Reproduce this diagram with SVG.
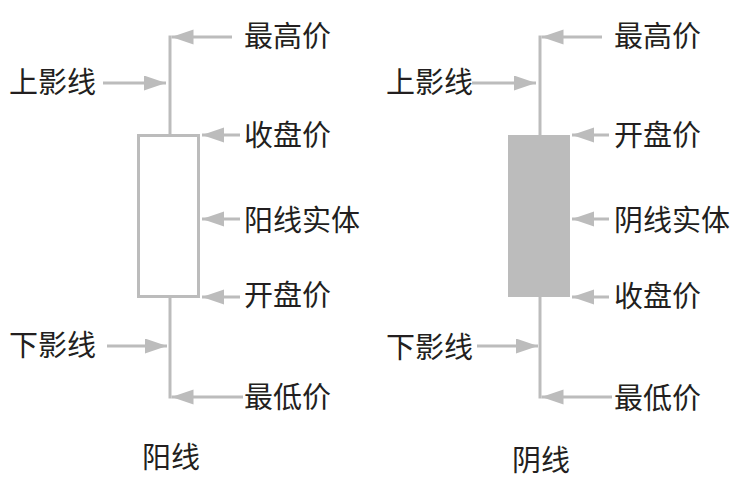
<svg xmlns="http://www.w3.org/2000/svg" width="747" height="485" viewBox="0 0 747 485">
<defs>
<style>
.ln{stroke:#bcbcbc;stroke-width:3;fill:none}
.ar{stroke:#bcbcbc;stroke-width:3;fill:none;marker-end:url(#ah)}
.t{font-family:"Noto Sans CJK SC","Noto Sans",sans-serif;font-size:29px;fill:#231f20}
</style>
<marker id="ah" markerUnits="userSpaceOnUse" markerWidth="23" markerHeight="16" refX="22" refY="7.5" orient="auto">
<path d="M0,0 L22,7.5 L0,15 z" fill="#bcbcbc"/>
</marker>
</defs>
<rect width="747" height="485" fill="#fff"/>
<g id="yang-candle">
<line class="ln" x1="170" y1="35.5" x2="170" y2="135.5"/>
<rect class="ln" x="138.5" y="135.5" width="60" height="161"/>
<line class="ln" x1="170" y1="296.5" x2="170" y2="398.5"/>
</g>
<g id="yin-candle">
<line class="ln" x1="540" y1="35.5" x2="540" y2="136"/>
<rect x="508" y="135" width="62" height="162" fill="#bcbcbc"/>
<line class="ln" x1="540" y1="296" x2="540" y2="398.5"/>
</g>
<g id="connectors">
<line class="ar" x1="232" y1="37" x2="171.5" y2="37"/>
<line class="ar" x1="103" y1="83" x2="166" y2="83"/>
<line class="ar" x1="240" y1="135" x2="202" y2="135"/>
<line class="ar" x1="240" y1="219" x2="202" y2="219"/>
<line class="ar" x1="240" y1="297" x2="202" y2="297"/>
<line class="ar" x1="107" y1="346" x2="167" y2="346"/>
<line class="ar" x1="243" y1="397" x2="171.5" y2="397"/>
<line class="ar" x1="602" y1="37" x2="541.5" y2="37"/>
<line class="ar" x1="472" y1="83" x2="536" y2="83"/>
<line class="ar" x1="609" y1="135" x2="572" y2="135"/>
<line class="ar" x1="609" y1="219" x2="572" y2="219"/>
<line class="ar" x1="609" y1="297" x2="572" y2="297"/>
<line class="ar" x1="477" y1="346" x2="538" y2="346"/>
<line class="ar" x1="612" y1="397" x2="541.5" y2="397"/>
</g>
<g id="yang-labels">
<text class="t" x="244" y="47">最高价</text>
<text class="t" x="9" y="93">上影线</text>
<text class="t" x="244" y="146">收盘价</text>
<text class="t" x="244" y="231">阳线实体</text>
<text class="t" x="244" y="306">开盘价</text>
<text class="t" x="9" y="356">下影线</text>
<text class="t" x="244" y="408">最低价</text>
<text class="t" x="142" y="468">阳线</text>
</g>
<g id="yin-labels">
<text class="t" x="614" y="47">最高价</text>
<text class="t" x="386" y="93">上影线</text>
<text class="t" x="614" y="146">开盘价</text>
<text class="t" x="614" y="231">阴线实体</text>
<text class="t" x="614" y="307">收盘价</text>
<text class="t" x="386" y="358">下影线</text>
<text class="t" x="614" y="409">最低价</text>
<text class="t" x="512" y="471">阴线</text>
</g>
</svg>
